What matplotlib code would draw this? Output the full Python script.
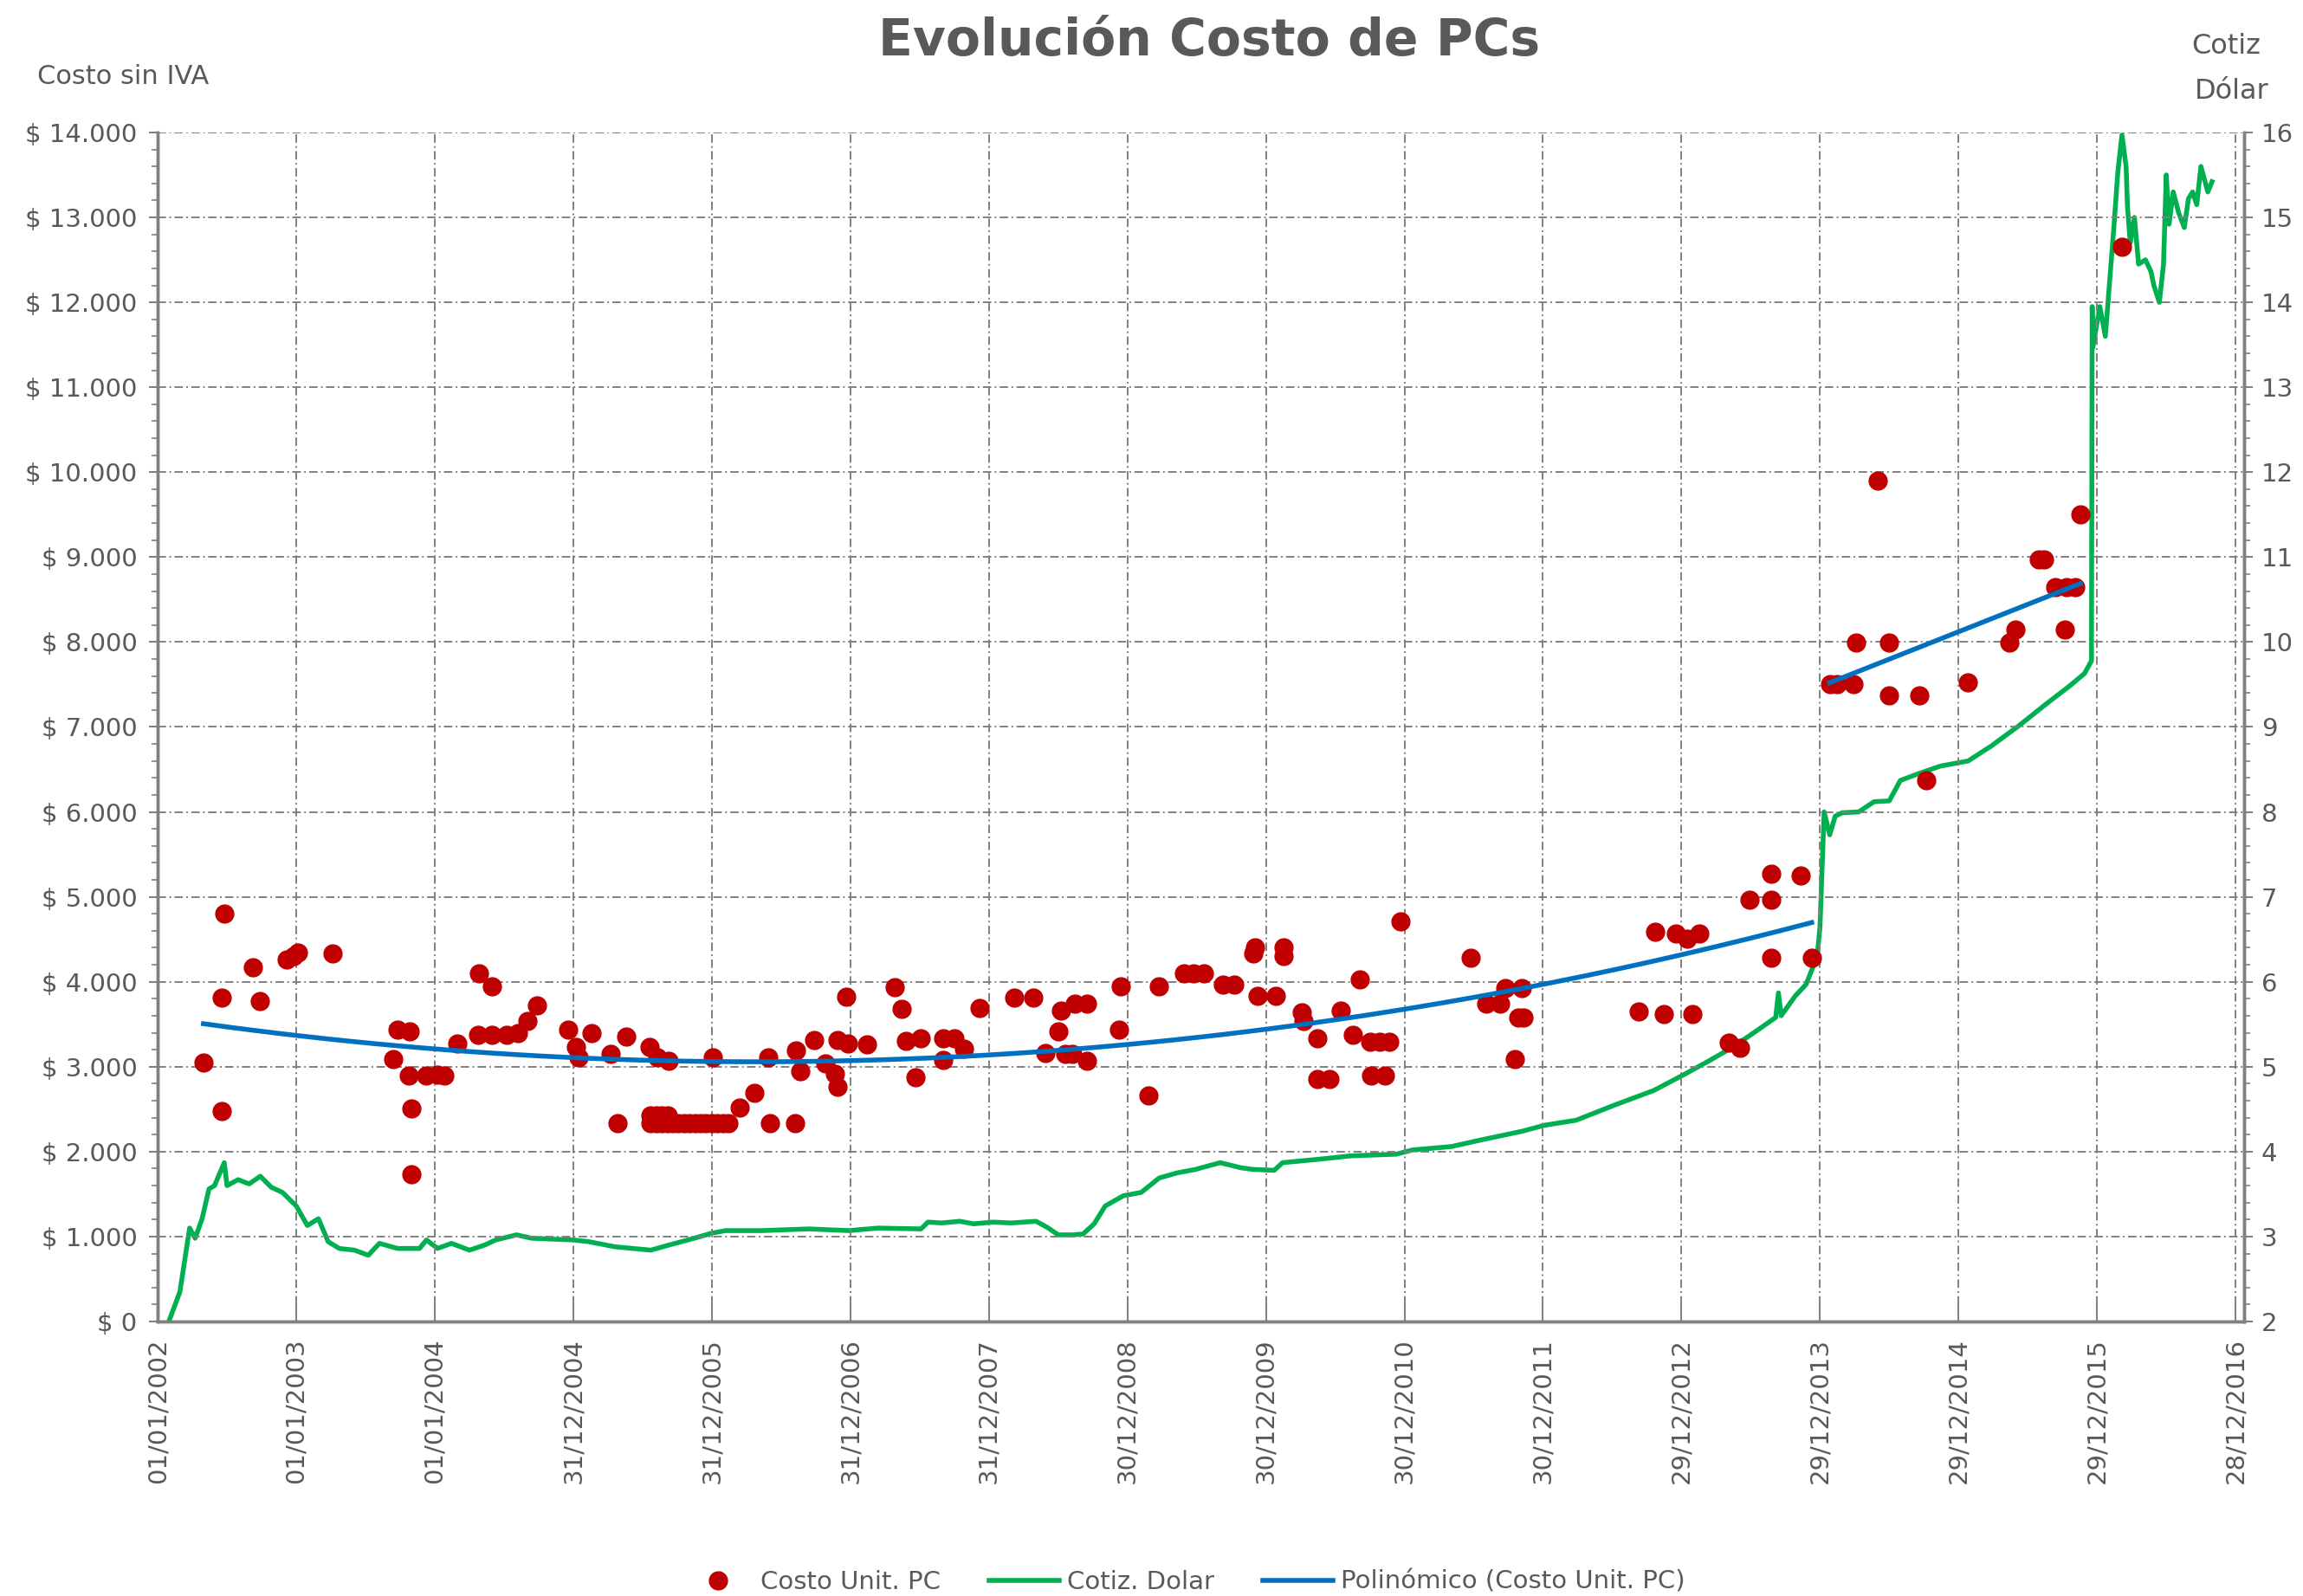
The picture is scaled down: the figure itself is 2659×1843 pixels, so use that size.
import datetime as dt

import matplotlib
matplotlib.use("Agg")
import matplotlib.pyplot as plt
import matplotlib.dates as mdates
from matplotlib.lines import Line2D
from matplotlib.ticker import MultipleLocator, FuncFormatter
import numpy as np

# fechas leidas del grafico como "anio decimal" (1.0 = 365 dias desde 01/01/2002)
# costo unitario PC, tramo 2002-2013
pc1_anio = [2002.33, 2002.46, 2002.46, 2002.48, 2002.69, 2002.74, 2002.93, 2002.98,
            2003.01, 2003.26, 2003.70, 2003.73, 2003.82, 2003.81, 2003.83, 2003.83,
            2003.94, 2004.02, 2004.07, 2004.16, 2004.31, 2004.32, 2004.41, 2004.41,
            2004.52, 2004.60, 2004.67, 2004.74, 2004.96, 2005.02, 2005.04, 2005.13,
            2005.27, 2005.32, 2005.38, 2005.55, 2005.61, 2005.69,
            2005.56, 2005.60, 2005.64, 2005.68, 2005.56, 2005.60, 2005.64, 2005.68,
            2005.72, 2005.76, 2005.80, 2005.84, 2005.88, 2005.92, 2005.96, 2006.00,
            2006.04, 2006.08, 2006.12,
            2006.01, 2006.20, 2006.31, 2006.41, 2006.42, 2006.60, 2006.61, 2006.64,
            2006.74, 2006.82, 2006.89, 2006.91, 2006.91, 2006.97, 2006.98, 2007.12,
            2007.32, 2007.37, 2007.40, 2007.47, 2007.51, 2007.67, 2007.67, 2007.75,
            2007.82, 2007.93, 2008.18, 2008.32, 2008.41, 2008.50, 2008.52, 2008.55,
            2008.60, 2008.62, 2008.71, 2008.71, 2008.94, 2008.95, 2009.15, 2009.23,
            2009.41, 2009.48, 2009.55, 2009.69, 2009.77, 2009.92, 2009.91, 2009.94,
            2010.07, 2010.13, 2010.13, 2010.26, 2010.27, 2010.37, 2010.37, 2010.46,
            2010.54, 2010.63, 2010.68, 2010.75, 2010.82, 2010.89, 2010.76, 2010.86,
            2010.97, 2011.48, 2011.59, 2011.69, 2011.73, 2011.85, 2011.80, 2011.82,
            2011.86, 2012.69, 2012.81, 2012.87, 2012.96, 2013.04, 2013.13, 2013.08,
            2013.34, 2013.42, 2013.49, 2013.65, 2013.65, 2013.65, 2013.86, 2013.94]
pc1_costo = [3050, 3810, 2480, 4800, 4175, 3775, 4260, 4300,
             4340, 4330, 3090, 3440, 3420, 2900, 2510, 1730,
             2900, 2910, 2900, 3270, 3370, 4100, 3950, 3370,
             3370, 3400, 3540, 3720, 3440, 3230, 3110, 3400,
             3150, 2335, 3350, 3230, 3110, 3070,
             2430, 2430, 2430, 2430, 2330, 2330, 2330, 2330,
             2330, 2330, 2330, 2330, 2330, 2330, 2330, 2330,
             2330, 2330, 2330,
             3105, 2520, 2690, 3105, 2330, 2330, 3190, 2950,
             3315, 3035, 2920, 2760, 3315, 3820, 3270, 3260,
             3940, 3680, 3300, 2880, 3330, 3330, 3080, 3330,
             3210, 3690, 3810, 3810, 3160, 3420, 3660, 3150,
             3150, 3740, 3740, 3070, 3440, 3950, 2665, 3950,
             4100, 4100, 4100, 3970, 3970, 4400, 4330, 3830,
             3830, 4400, 4300, 3640, 3540, 3330, 2860, 2860,
             3660, 3370, 4030, 3290, 3290, 3290, 2900, 2900,
             4710, 4280, 3740, 3740, 3930, 3930, 3090, 3580,
             3580, 3650, 4590, 3620, 4570, 4510, 4570, 3620,
             3280, 3220, 4970, 4970, 5270, 4280, 5250, 4280]

# costo unitario PC, tramo 2014-2015
pc2_anio = [2014.07, 2014.12, 2014.24, 2014.26, 2014.42, 2014.50, 2014.50, 2014.72,
            2014.77, 2015.07, 2015.37, 2015.41, 2015.58, 2015.62, 2015.70, 2015.77,
            2015.78, 2015.84, 2015.88]
pc2_costo = [7500, 7500, 7500, 7990, 9900, 7990, 7370, 7370,
             6370, 7530, 7990, 8150, 8970, 8970, 8650, 8150,
             8650, 8650, 9500]

# costo unitario PC, 2016
pc3_anio = [2016.18]
pc3_costo = [12650]

# cotizacion del dolar
dolar_anio = [2002.08, 2002.16, 2002.20, 2002.23, 2002.27, 2002.32, 2002.37, 2002.41,
              2002.48, 2002.50, 2002.58, 2002.66, 2002.74, 2002.82, 2002.90, 2003.00,
              2003.08, 2003.16, 2003.23, 2003.31, 2003.42, 2003.52, 2003.60, 2003.73,
              2003.89, 2003.94, 2004.02, 2004.12, 2004.25, 2004.36, 2004.44, 2004.59,
              2004.70, 2004.85, 2005.00, 2005.11, 2005.30, 2005.56, 2005.69, 2005.85,
              2006.00, 2006.10, 2006.36, 2006.70, 2006.99, 2007.20, 2007.51, 2007.56,
              2007.66, 2007.79, 2007.89, 2008.03, 2008.16, 2008.34, 2008.42, 2008.50,
              2008.60, 2008.68, 2008.76, 2008.84, 2008.97, 2009.10, 2009.23, 2009.36,
              2009.49, 2009.67, 2009.82, 2009.91, 2010.06, 2010.12, 2010.38, 2010.61,
              2010.94, 2011.06, 2011.34, 2011.56, 2011.85, 2012.01, 2012.24, 2012.52,
              2012.80, 2013.01, 2013.20, 2013.37, 2013.54, 2013.68, 2013.70, 2013.72,
              2013.82, 2013.90, 2013.98, 2014.00, 2014.03, 2014.07, 2014.11, 2014.16,
              2014.28, 2014.39, 2014.50, 2014.58, 2014.71, 2014.87, 2015.07, 2015.24,
              2015.44, 2015.64, 2015.80, 2015.91, 2015.96, 2015.965, 2015.97, 2016.02,
              2016.06, 2016.08, 2016.12, 2016.15, 2016.18, 2016.21, 2016.22, 2016.24,
              2016.27, 2016.30, 2016.35, 2016.39, 2016.41, 2016.45, 2016.48, 2016.50,
              2016.52, 2016.55, 2016.59, 2016.63, 2016.66, 2016.69, 2016.72, 2016.75,
              2016.78, 2016.80, 2016.83]
dolar_valor = [2.00, 2.35, 2.78, 3.10, 2.98, 3.21, 3.56, 3.60,
               3.87, 3.60, 3.67, 3.62, 3.71, 3.58, 3.52, 3.36,
               3.13, 3.21, 2.94, 2.86, 2.84, 2.78, 2.92, 2.86,
               2.86, 2.96, 2.86, 2.92, 2.84, 2.90, 2.96, 3.02,
               2.98, 2.97, 2.96, 2.94, 2.88, 2.84, 2.90, 2.97,
               3.04, 3.07, 3.07, 3.09, 3.07, 3.10, 3.09, 3.17,
               3.16, 3.18, 3.15, 3.17, 3.16, 3.18, 3.11, 3.02,
               3.02, 3.03, 3.15, 3.36, 3.48, 3.52, 3.69, 3.75,
               3.79, 3.87, 3.81, 3.79, 3.78, 3.87, 3.91, 3.95,
               3.97, 4.02, 4.06, 4.14, 4.24, 4.31, 4.37, 4.55,
               4.72, 4.90, 5.07, 5.23, 5.42, 5.58, 5.87, 5.60,
               5.83, 5.97, 6.30, 6.65, 8.00, 7.73, 7.95, 7.99,
               8.00, 8.12, 8.13, 8.37, 8.45, 8.54, 8.60, 8.78,
               9.02, 9.28, 9.48, 9.63, 9.78, 13.95, 13.47, 13.95,
               13.60, 14.02, 14.85, 15.53, 15.97, 15.60, 15.12, 14.70,
               15.00, 14.45, 14.50, 14.36, 14.20, 14.00, 14.45, 15.50,
               14.92, 15.30, 15.05, 14.88, 15.22, 15.30, 15.15, 15.60,
               15.42, 15.30, 15.42]

fechas_eje = ["01/01/2002", "01/01/2003", "01/01/2004", "31/12/2004", "31/12/2005",
              "31/12/2006", "31/12/2007", "30/12/2008", "30/12/2009", "30/12/2010",
              "30/12/2011", "29/12/2012", "29/12/2013", "29/12/2014", "29/12/2015",
              "28/12/2016"]

ROJO = "#C00000"
VERDE = "#00B050"
AZUL = "#0070C0"
GRIS = "#595959"

base = mdates.date2num(dt.datetime(2002, 1, 1))


def a_fecha(anios):
    return base + (np.array(anios) - 2002) * 365


fig = plt.figure(figsize=(26.59, 18.43), dpi=100)
ax = fig.add_axes([0.0685, 0.172, 0.906, 0.745])
ax2 = ax.twinx()

# cotizacion dolar (eje derecho)
ax2.plot(a_fecha(dolar_anio), dolar_valor, color=VERDE, lw=4, zorder=2)

# puntos de costo
for anios, costos in [(pc1_anio, pc1_costo), (pc2_anio, pc2_costo), (pc3_anio, pc3_costo)]:
    ax.plot(a_fecha(anios), costos, "o", ms=15, color=ROJO, mec=ROJO, zorder=3)

# linea de tendencia por tramo
for anios, costos, orden in [(pc1_anio, pc1_costo, 2), (pc2_anio, pc2_costo, 1)]:
    xs = a_fecha(anios)
    coef = np.polyfit(xs, costos, orden)
    xx = np.linspace(xs.min(), xs.max(), 200)
    ax.plot(xx, np.polyval(coef, xx), color=AZUL, lw=4, zorder=4)

# costo encima de la cotizacion
ax.set_zorder(ax2.get_zorder() + 1)
ax.patch.set_visible(False)

# ejes
ticks_x = [mdates.date2num(dt.datetime.strptime(f, "%d/%m/%Y")) for f in fechas_eje]
ax.set_xlim(base, ticks_x[-1] + 23)
ax.set_xticks(ticks_x)
ax.set_xticklabels(fechas_eje, rotation=90, fontsize=21, color=GRIS)
ax.tick_params(axis="x", direction="in", length=15, width=1.5, color="#808080", pad=14)

ax.set_ylim(0, 14000)
ax.yaxis.set_major_locator(MultipleLocator(1000))
ax.yaxis.set_minor_locator(MultipleLocator(200))
ax.yaxis.set_major_formatter(FuncFormatter(lambda v, p: "$ " + f"{v:,.0f}".replace(",", ".")))
ax.tick_params(axis="y", which="major", direction="out", length=7, width=1.5,
               color="#808080", labelsize=21, labelcolor=GRIS, pad=10)
ax.tick_params(axis="y", which="minor", direction="out", length=5, width=1.2, color="#808080")

ax2.set_ylim(2, 16)
ax2.yaxis.set_major_locator(MultipleLocator(1))
ax2.yaxis.set_minor_locator(MultipleLocator(0.2))
ax2.tick_params(axis="y", which="major", direction="out", length=7, width=1.5,
                color="#808080", labelsize=21, labelcolor=GRIS, pad=7)
ax2.tick_params(axis="y", which="minor", direction="out", length=5, width=1.2, color="#808080")

for a in (ax, ax2):
    a.spines["top"].set_visible(False)
    for s in ("left", "right", "bottom"):
        a.spines[s].set_color("#808080")
        a.spines[s].set_linewidth(2.5)

ax.grid(True, which="major", color="#808080", lw=1.4, linestyle=(0, (5, 2, 1, 2)))

# textos
fig.text(0.525, 0.974, "Evolución Costo de PCs", ha="center", va="center",
         fontsize=42, fontweight="bold", color=GRIS)
fig.text(0.016, 0.952, "Costo sin IVA", ha="left", va="center", fontsize=22, color=GRIS)
fig.text(0.9665, 0.9707, "Cotiz", ha="center", va="center", fontsize=23, color=GRIS)
fig.text(0.969, 0.943, "Dólar", ha="center", va="center", fontsize=23, color=GRIS)

handles = [Line2D([], [], marker="o", ls="none", ms=15, color=ROJO),
           Line2D([], [], color=VERDE, lw=4),
           Line2D([], [], color=AZUL, lw=4)]
leg = fig.legend(handles, ["Costo Unit. PC", "Cotiz. Dolar", "Polinómico (Costo Unit. PC)"],
                 loc="lower center", bbox_to_anchor=(0.514, -0.013), ncol=3, frameon=False,
                 fontsize=21, handlelength=2.8, handletextpad=0.3, columnspacing=1.9)
for t in leg.get_texts():
    t.set_color(GRIS)

fig.savefig("out.png", dpi=100)
